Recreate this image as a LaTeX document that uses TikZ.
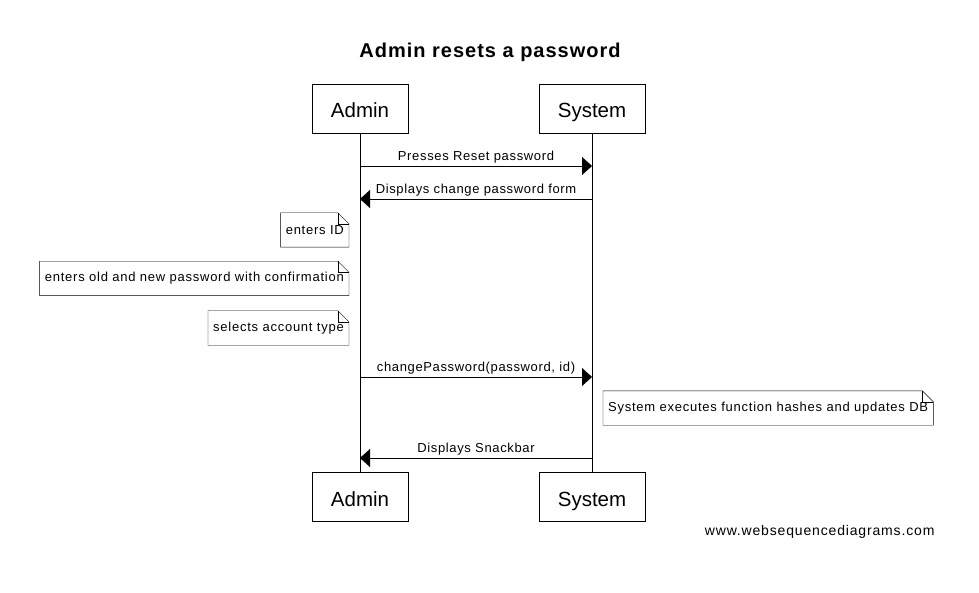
\documentclass[tikz,border=0pt]{standalone}
\usepackage{fontspec}
\setmainfont{Liberation Sans}
\newfontfamily\spaced{Liberation Sans}[LetterSpace=5]
\newfontfamily\notefont{Liberation Sans}[LetterSpace=5.8]
\newfontfamily\wide{Liberation Sans}[LetterSpace=6]
\usetikzlibrary{positioning}
\usetikzlibrary{arrows.meta}
\tikzset{>={Triangle[width=18pt,length=10pt]}}
\tikzset{
  actor/.style={draw, minimum height=49pt, text height=21pt, text depth=3pt, font=\fontsize{20.5}{24}\selectfont},
  note/.style={minimum height=34pt, inner xsep=5pt, font=\notefont\fontsize{13}{15}\selectfont},
  msg/.style={inner sep=0pt, text depth=3pt, above=2pt, font=\spaced\fontsize{13}{15}\selectfont},
}

\begin{document}
\begin{tikzpicture}[x=1pt, y=-1pt]
    \useasboundingbox (0,0) rectangle (979,593);
    \node (title) at (490,58) [anchor=base, font=\spaced\bfseries\fontsize{20}{24}\selectfont] {Admin resets a password};

    \node (admin) at (360,108.5) [actor, minimum width=96pt] {Admin};
    \node (system) at (592,108.5) [actor, minimum width=106pt] {System};
    \node (admin2) at (360,497) [actor, minimum width=96pt] {Admin};
    \node (system2) at (592,497) [actor, minimum width=106pt] {System};
    \draw (admin) -- (admin2);
    \draw (system) -- (system2);

    \path [draw, ->] (admin |- 0,166) -- node [msg] {Presses Reset password} (system |- 0,166);
    \path [draw, ->] (system |- 0,199) -- node [msg] {Displays change password form} (admin |- 0,199);

    \node (id) at (349,230) [note, anchor=east] {enters ID};
    \node (pw) at (349,278.5) [note, anchor=east] {enters old and new password with confirmation};
    \node (acc) at (349,328) [note, anchor=east] {selects account type};

    \path [draw, ->] (admin |- 0,377) -- node [msg] {changePassword(password, id)} (system |- 0,377);

    \node (hash) at (603,408) [note, anchor=west] {System executes function hashes and updates DB};

    \path [draw, ->] (system |- 0,458) -- node [msg] {Displays Snackbar} (admin |- 0,458);

    % folded corners of the notes
    \foreach \n in {id, pw, acc, hash} {
        \draw (\n.south west) |- ([xshift=-11pt]\n.north east) -- ([yshift=-11pt]\n.north east) -- (\n.south east) -- cycle;
        \draw ([xshift=-11pt]\n.north east) |- ([yshift=-11pt]\n.north east);
    }

    \node (web) at (938,535) [anchor=base east, font=\wide\fontsize{14}{16}\selectfont] {www.websequencediagrams.com};
\end{tikzpicture}
\end{document}
